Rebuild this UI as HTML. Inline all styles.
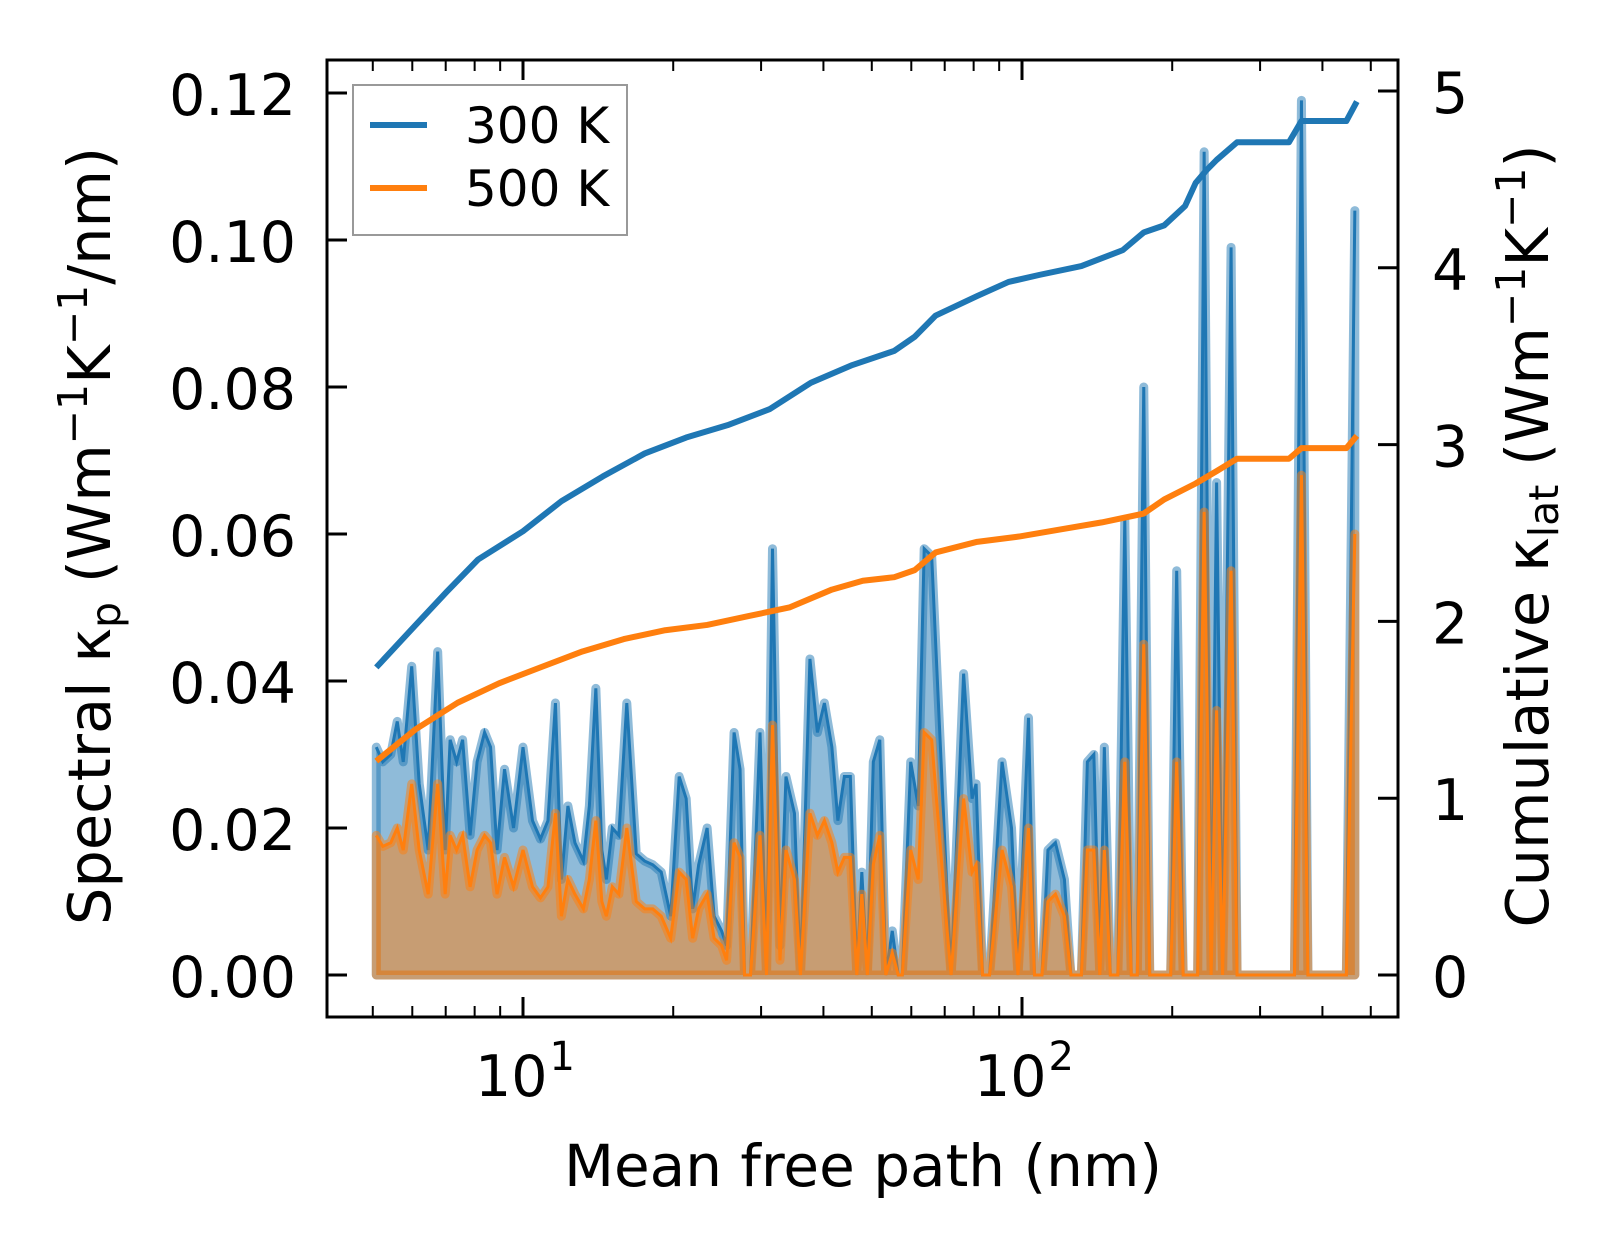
<!DOCTYPE html>
<html><head><meta charset="utf-8"><style>
html,body{margin:0;padding:0;background:#fff}
svg{display:block}
text{font-family:"DejaVu Sans","Liberation Sans",sans-serif;fill:#000}
</style></head><body>
<svg id="chart" width="1623" height="1254" viewBox="0 0 1623 1254" xmlns="http://www.w3.org/2000/svg">
<g id="fills"></g>
<g id="lines"></g>
<g id="axes"></g>
<g>
<rect x="353" y="85" width="274" height="150" fill="#fff" fill-opacity="0.8" stroke="#999" stroke-width="2"/>
<line x1="370" y1="125" x2="427" y2="125" stroke="#1f77b4" stroke-width="6"/>
<text x="465" y="143" font-size="50">300 K</text>
<line x1="370" y1="188" x2="427" y2="188" stroke="#ff7f0e" stroke-width="6"/>
<text x="465" y="206" font-size="50">500 K</text>
</g>
<text x="863" y="1186" font-size="58" text-anchor="middle">Mean free path (nm)</text>
<text transform="translate(110,536) rotate(-90)" font-size="59" text-anchor="middle">Spectral κ<tspan font-size="41" dy="10">p</tspan><tspan dy="-10"> (Wm</tspan><tspan font-size="41" dy="-23">−1</tspan><tspan dy="23">K</tspan><tspan font-size="41" dy="-23">−1</tspan><tspan dy="23">/nm)</tspan></text>
<text transform="translate(1548,536) rotate(-90)" font-size="59" text-anchor="middle">Cumulative κ<tspan font-size="41" dy="10">lat</tspan><tspan dy="-10"> (Wm</tspan><tspan font-size="41" dy="-23">−1</tspan><tspan dy="23">K</tspan><tspan font-size="41" dy="-23">−1</tspan><tspan dy="23">)</tspan></text>
</svg>
<script>
// log10 of mean free path (nm) for spectral points
const specLogMfp = [0.706,0.719,0.735,0.748,0.760,0.777,0.792,0.810,0.829,0.844,0.854,0.867,0.879,0.894,0.908,0.923,0.935,0.948,0.963,0.981,1.000,1.019,1.035,1.050,1.065,1.077,1.090,1.104,1.121,1.133,1.146,1.158,1.167,1.179,1.192,1.208,1.227,1.244,1.260,1.277,1.296,1.313,1.327,1.340,1.352,1.369,1.383,1.398,1.408,1.423,1.435,1.444,1.456,1.475,1.488,1.500,1.515,1.527,1.544,1.556,1.575,1.590,1.604,1.619,1.631,1.644,1.656,1.669,1.679,1.690,1.702,1.715,1.727,1.740,1.752,1.760,1.777,1.792,1.804,1.819,1.850,1.858,1.883,1.900,1.908,1.921,1.935,1.960,1.979,1.992,2.013,2.025,2.040,2.052,2.067,2.085,2.098,2.119,2.131,2.144,2.156,2.165,2.177,2.192,2.206,2.219,2.231,2.244,2.256,2.281,2.298,2.310,2.323,2.352,2.365,2.379,2.390,2.402,2.419,2.431,2.546,2.560,2.573,2.650,2.667];
const spec300 = [.031,.029,.030,.0345,.029,.042,.026,.017,.044,.017,.032,.029,.032,.019,.029,.033,.031,.017,.028,.020,.031,.021,.0185,.021,.037,.013,.023,.018,.0155,.023,.039,.017,.013,.020,.019,.037,.0165,.0155,.015,.014,.008,.027,.024,.009,.015,.020,.008,.006,.004,.033,.028,0,0,.033,0,.058,.004,.027,.022,0,.043,.033,.037,.031,.021,.027,.027,0,.014,0,.029,.032,0,.006,0,0,.029,.023,.058,.057,.011,0,.041,.024,.026,0,0,.029,.020,0,.035,0,0,.017,.018,.013,0,0,.029,.030,0,.031,0,0,.062,0,0,.080,0,0,0,.055,0,0,.112,0,.067,0,.099,0,0,.119,0,0,.104];
const spec500 = [.019,.0175,.018,.020,.017,.026,.017,.011,.026,.011,.019,.017,.019,.012,.017,.019,.018,.011,.016,.012,.017,.012,.0105,.012,.022,.008,.013,.011,.009,.013,.021,.010,.008,.012,.011,.020,.010,.009,.009,.008,.005,.014,.013,.005,.009,.011,.005,.004,.002,.018,.016,0,0,.019,0,.034,.002,.017,.013,0,.022,.019,.021,.018,.014,.016,.016,0,.011,0,.015,.019,0,.003,0,0,.017,.013,.033,.032,.006,0,.024,.014,.015,0,0,.017,.012,0,.020,0,0,.010,.011,.008,0,0,.017,.017,0,.017,0,0,.029,0,0,.045,0,0,0,.029,0,0,.063,0,.036,0,.055,0,0,.068,0,0,.060];
// cumulative curves
const cum300LogMfp = [0.706,0.785,0.848,0.910,1.000,1.077,1.160,1.244,1.327,1.410,1.494,1.577,1.660,1.744,1.785,1.827,1.910,1.973,2.035,2.119,2.202,2.244,2.285,2.327,2.348,2.369,2.390,2.431,2.535,2.560,2.650,2.671];
const cum300 = [1.74,1.98,2.17,2.35,2.51,2.68,2.82,2.95,3.04,3.11,3.20,3.35,3.45,3.53,3.61,3.73,3.84,3.92,3.96,4.01,4.10,4.20,4.24,4.35,4.48,4.55,4.61,4.71,4.71,4.83,4.83,4.94];
const cum500LogMfp = [0.706,0.785,0.869,0.952,1.035,1.119,1.202,1.285,1.369,1.452,1.535,1.619,1.681,1.744,1.785,1.827,1.910,1.994,2.077,2.160,2.244,2.285,2.348,2.390,2.431,2.535,2.560,2.650,2.671];
const cum500 = [1.21,1.39,1.54,1.65,1.74,1.83,1.90,1.95,1.98,2.03,2.08,2.18,2.23,2.25,2.29,2.39,2.45,2.48,2.52,2.56,2.61,2.69,2.78,2.85,2.92,2.92,2.98,2.98,3.05];
const leftTicks = [0,0.02,0.04,0.06,0.08,0.10,0.12];
const leftTickLabels = ["0.00","0.02","0.04","0.06","0.08","0.10","0.12"];
const rightTicks = [0,1,2,3,4,5];
const xMajorExp = [1,2];

const NS="http://www.w3.org/2000/svg";
const L=327,R=1398,T=60,B=1017;
const xs = lg => 523 + (lg-1)*499;
const yl = v => 975 - v/0.02*147;
const yr = v => 975 - v*176.8;
function mk(tag, attrs, parent){const e=document.createElementNS(NS,tag);for(const k in attrs)e.setAttribute(k,attrs[k]);parent.appendChild(e);return e;}
const fills=document.getElementById('fills'), lines=document.getElementById('lines'), axes=document.getElementById('axes');

function fillSeries(vals,color,name){
  let d=`M${xs(specLogMfp[0])},${yl(0)}`;
  specLogMfp.forEach((lg,i)=>{d+=` L${xs(lg)},${yl(vals[i])}`;});
  d+=` L${xs(specLogMfp[specLogMfp.length-1])},${yl(0)} Z`;
  const p=mk('path',{d:d,fill:color,'fill-opacity':0.5,stroke:color,'stroke-opacity':0.5,'stroke-width':9,'stroke-linejoin':'round'},fills);
  
  
  const l=mk('polyline',{points:specLogMfp.map((lg,i)=>xs(lg)+','+yl(vals[i])).join(' '),fill:'none',stroke:color,'stroke-width':3},fills);
  
  
}
fillSeries(spec300,'#1f77b4','spectral-300k');
fillSeries(spec500,'#ff7f0e','spectral-500k');

function cumLine(lgs,vals,color,name){
  const l=mk('polyline',{points:lgs.map((lg,i)=>xs(lg)+','+yr(vals[i])).join(' '),fill:'none',stroke:color,'stroke-width':6,'stroke-linejoin':'round'},lines);
  
  
}
cumLine(cum300LogMfp,cum300,'#1f77b4','cumulative-300k');
cumLine(cum500LogMfp,cum500,'#ff7f0e','cumulative-500k');

const fr=mk('rect',{x:L,y:T,width:R-L,height:B-T,fill:'none',stroke:'#000','stroke-width':3},axes);


leftTicks.forEach((v,i)=>{
  const y=yl(v);
  mk('line',{x1:L,y1:y,x2:L+20,y2:y,stroke:'#000','stroke-width':3},axes);
  const t=mk('text',{x:296,y:y+22,'font-size':57,'text-anchor':'end'},axes);
  t.textContent=leftTickLabels[i];
  
  
});
rightTicks.forEach(v=>{
  const y=yr(v);
  mk('line',{x1:R-20,y1:y,x2:R,y2:y,stroke:'#000','stroke-width':3},axes);
  const t=mk('text',{x:1432,y:y+22,'font-size':57},axes);
  t.textContent=String(v);
  
  
});
for(let e=0;e<=2;e++){
  for(let m=1;m<=9;m++){
    const lg=e+Math.log10(m);
    const x=xs(lg);
    if(x<L||x>R) continue;
    const len=(m===1)?20:11;
    mk('line',{x1:x,y1:B,x2:x,y2:B-len,stroke:'#000','stroke-width':m===1?3:2},axes);
    mk('line',{x1:x,y1:T,x2:x,y2:T+len,stroke:'#000','stroke-width':m===1?3:2},axes);
  }
}
xMajorExp.forEach(e=>{
  const t=mk('text',{x:xs(e)+2,y:1096,'font-size':57,'text-anchor':'middle'},axes);
  t.textContent='10';
  const s=mk('tspan',{'font-size':40,dy:-26,dx:2},t);
  s.textContent=String(e);
  
  
});
</script>
</body></html>
